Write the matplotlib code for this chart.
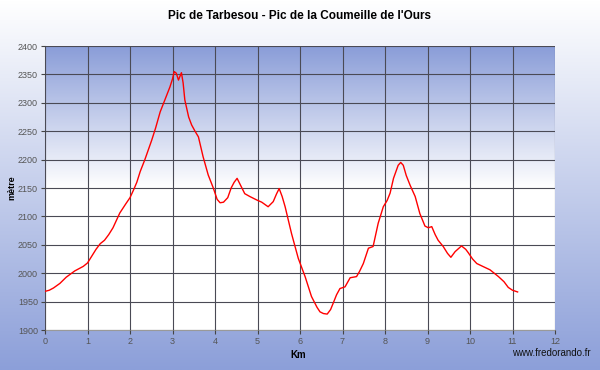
import numpy as np
import matplotlib.pyplot as plt
from matplotlib.colors import LinearSegmentedColormap

plt.rcParams['font.family'] = ['Liberation Sans', 'DejaVu Sans']

title = "Pic de Tarbesou - Pic de la Coumeille de l'Ours"

km = [0.00, 0.10, 0.20, 0.35, 0.50, 0.70, 0.90, 1.00, 1.10, 1.20, 1.30,
      1.40, 1.50, 1.60, 1.76, 1.90, 2.00, 2.08, 2.16, 2.24, 2.35, 2.51,
      2.60, 2.71, 2.82, 2.94, 3.00, 3.04, 3.09, 3.14, 3.21, 3.25, 3.29,
      3.38, 3.45, 3.53, 3.61, 3.72, 3.84, 3.96, 4.05, 4.12, 4.20, 4.30,
      4.38, 4.45, 4.52, 4.60, 4.70, 4.82, 4.98, 5.10, 5.25, 5.37, 5.45,
      5.51, 5.58, 5.65, 5.80, 5.96, 6.12, 6.27, 6.40, 6.47, 6.55, 6.64,
      6.72, 6.78, 6.86, 6.94, 7.06, 7.18, 7.33, 7.40, 7.49, 7.61, 7.72,
      7.84, 7.96, 8.05, 8.12, 8.20, 8.31, 8.37, 8.43, 8.50, 8.59, 8.71,
      8.82, 8.94, 9.02, 9.10, 9.18, 9.25, 9.37, 9.47, 9.55, 9.65, 9.80,
      9.90, 9.96, 10.06, 10.16, 10.30, 10.47, 10.67, 10.80, 10.90, 11.00,
      11.12]
elev = [1968, 1970, 1974, 1982, 1993, 2004, 2012, 2018, 2030, 2042, 2052,
        2058, 2068, 2080, 2106, 2122, 2133, 2146, 2160, 2179, 2200, 2234,
        2255, 2284, 2305, 2328, 2342, 2355, 2352, 2340, 2353, 2335, 2305,
        2275, 2261, 2250, 2240, 2205, 2173, 2150, 2130, 2124, 2125, 2133,
        2150, 2160, 2167, 2155, 2140, 2135, 2129, 2125, 2117, 2126, 2140,
        2149, 2135, 2117, 2070, 2026, 1994, 1959, 1940, 1932, 1929, 1928,
        1936, 1947, 1962, 1973, 1976, 1992, 1994, 2003, 2017, 2044, 2047,
        2088, 2117, 2128, 2141, 2167, 2190, 2195, 2190, 2172, 2155, 2135,
        2105, 2083, 2080, 2082, 2068, 2058, 2047, 2035, 2028, 2038, 2048,
        2042, 2036, 2025, 2017, 2012, 2006, 1994, 1985, 1975, 1970, 1967]

x_ticks = list(range(0, 13))
y_ticks = list(range(1900, 2401, 50))

fig = plt.figure(figsize=(6, 3.7), dpi=100)

# figure background: white at top, blue at bottom
bg = fig.add_axes([0, 0, 1, 1], zorder=-10)
cmap_bg = LinearSegmentedColormap.from_list('bg', ['#ffffff', '#8c9fd9'])
bg.imshow(np.linspace(0, 1, 256).reshape(-1, 1), aspect='auto', cmap=cmap_bg,
          extent=[0, 1, 0, 1], origin='upper')
bg.axis('off')

ax = fig.add_axes([45 / 600, 40 / 370, 510 / 600, 284 / 370])
ax.set_facecolor('white')
cmap_pl = LinearSegmentedColormap.from_list('pl', ['#ffffff', '#ffffff', '#8a9dd8'])
ax.imshow(np.linspace(0, 1, 256).reshape(-1, 1), aspect='auto', cmap=cmap_pl,
          extent=[0, 12, 1900, 2400], origin='lower', zorder=0)

ax.plot(km, elev, color='#ff0000', lw=1.0, zorder=3)

ax.set_xlim(0, 12)
ax.set_ylim(1900, 2400)
ax.set_xticks(x_ticks)
ax.set_yticks(y_ticks)
ax.grid(True, color='#4a4a55', lw=0.8, zorder=1)
ax.set_axisbelow(False)
for s in ['top', 'right']:
    ax.spines[s].set_visible(False)
for s in ['left', 'bottom']:
    ax.spines[s].set_color('#999999')
ax.tick_params(colors='#444444', labelsize=6.5, length=3, width=0.8, pad=2)
for lab in ax.get_xticklabels() + ax.get_yticklabels():
    lab.set_color('#555555')

fig.text(298 / 600, 1 - 355 / 370, 'Km', ha='center', va='center', fontsize=7,
         fontweight='bold')
fig.text(12 / 600, 1 - 188 / 370, 'mètre', ha='center', va='center', fontsize=6.5,
         fontweight='bold', rotation=90)
fig.text(0.5, 1 - 16 / 370, title, ha='center', va='center', fontsize=8.5,
         fontweight='bold')
fig.text(591 / 600, 1 - 353 / 370, 'www.fredorando.fr', ha='right', va='center',
         fontsize=7, color='#111111')

fig.savefig('out.png', dpi=100)
